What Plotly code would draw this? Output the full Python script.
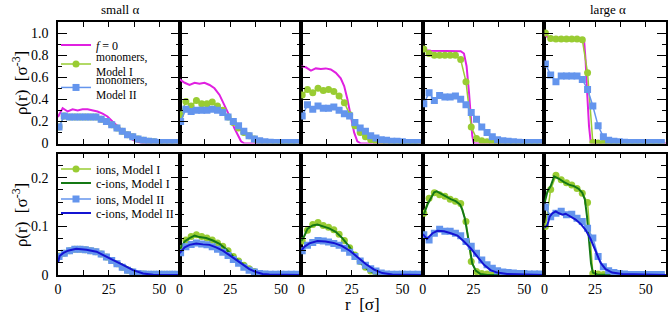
import plotly.graph_objects as go
from plotly.subplots import make_subplots

# ---------------- data ----------------
r_mark = [0.5, 3.1, 5.7, 8.3, 10.9, 13.5, 16.1, 18.7, 21.3, 23.9, 26.5, 29.1,
          31.7, 34.3, 36.9, 39.5, 42.1, 44.7, 47.3, 49.9, 52.5, 55.1, 57.7]

# top row: f = 0 reference curves
f0_r1 = [0, 0.3, 2.3, 4.8, 7.2, 9.7, 12.1, 14.6, 17, 19.5, 22, 24.4, 26.9, 29.3, 31.8, 34.3, 36.7, 39.2, 41.6, 44.9, 50, 60]
f0_v1 = [0.24, 0.25, 0.32, 0.29, 0.31, 0.30, 0.31, 0.31, 0.30, 0.29, 0.27, 0.245, 0.20, 0.16, 0.11, 0.07, 0.035, 0.015, 0.005, 0, 0, 0]
f0_r2 = [0, 2.5, 4.9, 7.4, 9.8, 12.3, 14.8, 17.2, 19.7, 22.1, 24.6, 27, 28.7, 30.3, 32, 60]
f0_v2 = [0.58, 0.55, 0.53, 0.55, 0.54, 0.55, 0.53, 0.50, 0.44, 0.35, 0.25, 0.14, 0.07, 0.02, 0, 0]
f0_r3 = [0, 2.3, 4.8, 7.2, 9.7, 12.1, 14.6, 17.1, 19.5, 21.2, 22.8, 24.5, 26.1, 27.7, 29.4, 60]
f0_v3 = [0.70, 0.69, 0.66, 0.68, 0.675, 0.68, 0.67, 0.64, 0.59, 0.52, 0.40, 0.25, 0.10, 0.02, 0, 0]
f0_r4 = [0, 1.5, 4, 8, 12, 16, 18.7, 20.3, 21.6, 22.8, 23.6, 24.4, 25.2, 60]
f0_v4 = [0.86, 0.845, 0.84, 0.84, 0.84, 0.84, 0.835, 0.815, 0.70, 0.46, 0.25, 0.07, 0, 0]
f0_r5 = [0, 1, 2.3, 6, 10, 14, 18.7, 19.5, 20.3, 21.1, 22, 22.8, 23.3, 60]
f0_v5 = [0.995, 0.97, 0.96, 0.96, 0.96, 0.958, 0.955, 0.95, 0.76, 0.46, 0.16, 0.02, 0, 0]

# top row: monomers, Model I (circles)
monI_1 = [0.15, 0.25, 0.24, 0.24, 0.24, 0.24, 0.24, 0.24, 0.22, 0.20, 0.17, 0.14, 0.11, 0.08, 0.06, 0.04, 0.03, 0.02, 0.015, 0.01, 0.01, 0.01, 0.01]
monI_2 = [0.26, 0.38, 0.34, 0.39, 0.36, 0.36, 0.375, 0.34, 0.30, 0.24, 0.19, 0.14, 0.10, 0.07, 0.04, 0.02, 0.01, 0.01, 0.005, 0.003, 0.002, 0.002, 0.002]
monI_3 = [0.44, 0.49, 0.46, 0.50, 0.48, 0.49, 0.47, 0.43, 0.37, 0.26, 0.16, 0.10, 0.06, 0.035, 0.02, 0.01, 0.008, 0.005, 0.004, 0.003, 0.003, 0.002, 0.002]
monI_4 = [0.855, 0.815, 0.80, 0.80, 0.80, 0.80, 0.80, 0.76, 0.56, 0.15, 0.045, 0.025, 0.015, 0.01, 0.008, 0.006, 0.005, 0.005, 0.004, 0.004, 0.003, 0.003, 0.003]
monI_5 = [1.0, 0.95, 0.945, 0.945, 0.945, 0.945, 0.945, 0.94, 0.64, 0.008, 0.005, 0.004, 0.003, 0.003, 0.002, 0.002, 0.002, 0.002, 0.002, 0.002, 0.002, 0.002, 0.002]

# top row: monomers, Model II (squares)
monII_1 = [0.15, 0.25, 0.24, 0.24, 0.24, 0.24, 0.24, 0.24, 0.22, 0.20, 0.17, 0.14, 0.11, 0.08, 0.06, 0.04, 0.03, 0.02, 0.015, 0.01, 0.01, 0.01, 0.01]
monII_2 = [0.20, 0.31, 0.29, 0.30, 0.30, 0.30, 0.31, 0.30, 0.28, 0.24, 0.20, 0.16, 0.11, 0.07, 0.04, 0.025, 0.015, 0.012, 0.01, 0.01, 0.008, 0.008, 0.008]
monII_3 = [0.25, 0.35, 0.31, 0.34, 0.32, 0.32, 0.33, 0.30, 0.27, 0.25, 0.19, 0.14, 0.11, 0.07, 0.05, 0.035, 0.03, 0.02, 0.02, 0.015, 0.01, 0.01, 0.01]
monII_4 = [0.36, 0.46, 0.39, 0.435, 0.42, 0.42, 0.43, 0.40, 0.35, 0.28, 0.22, 0.15, 0.10, 0.06, 0.035, 0.025, 0.02, 0.015, 0.012, 0.01, 0.01, 0.01, 0.01]
monII_5 = [0.72, 0.62, 0.56, 0.61, 0.61, 0.61, 0.61, 0.58, 0.49, 0.34, 0.16, 0.06, 0.03, 0.02, 0.015, 0.012, 0.01, 0.01, 0.01, 0.01, 0.01, 0.01, 0.01]

# bottom row: ions (markers)
ionI_1 = [0.039, 0.045, 0.050, 0.053, 0.053, 0.052, 0.050, 0.048, 0.043, 0.037, 0.030, 0.023, 0.016, 0.010, 0.006, 0.003, 0.002, 0.0015, 0.0015, 0.0015, 0.0015, 0.0015, 0.0015]
ionI_2 = [0.054, 0.072, 0.079, 0.083, 0.079, 0.076, 0.072, 0.066, 0.059, 0.050, 0.038, 0.029, 0.020, 0.013, 0.007, 0.003, 0.0015, 0.001, 0.001, 0.001, 0.001, 0.001, 0.001]
ionI_3 = [0.070, 0.092, 0.104, 0.108, 0.102, 0.098, 0.093, 0.084, 0.071, 0.056, 0.041, 0.028, 0.016, 0.008, 0.004, 0.002, 0.001, 0.001, 0.001, 0.001, 0.001, 0.001, 0.001]
ionI_4 = [0.127, 0.158, 0.169, 0.165, 0.162, 0.156, 0.152, 0.147, 0.110, 0.028, 0.007, 0.003, 0.002, 0.001, 0.001, 0.001, 0.001, 0.001, 0.001, 0.001, 0.001, 0.001, 0.001]
ionI_5 = [0.100, 0.176, 0.205, 0.196, 0.190, 0.185, 0.178, 0.168, 0.149, 0.003, 0.002, 0.001, 0.001, 0.001, 0.001, 0.001, 0.001, 0.001, 0.001, 0.001, 0.001, 0.001, 0.001]

ionII_1 = [0.038, 0.045, 0.050, 0.053, 0.053, 0.052, 0.050, 0.048, 0.043, 0.037, 0.030, 0.023, 0.016, 0.010, 0.006, 0.003, 0.002, 0.0015, 0.0015, 0.0015, 0.0015, 0.0015, 0.0015]
ionII_2 = [0.046, 0.058, 0.063, 0.066, 0.064, 0.062, 0.058, 0.053, 0.047, 0.040, 0.032, 0.024, 0.016, 0.010, 0.006, 0.003, 0.002, 0.0015, 0.0015, 0.0015, 0.0015, 0.0015, 0.0015]
ionII_3 = [0.050, 0.061, 0.067, 0.071, 0.070, 0.068, 0.065, 0.061, 0.055, 0.047, 0.038, 0.029, 0.020, 0.013, 0.008, 0.004, 0.002, 0.0015, 0.0015, 0.0015, 0.0015, 0.0015, 0.0015]
ionII_4 = [0.083, 0.072, 0.086, 0.094, 0.090, 0.090, 0.086, 0.081, 0.069, 0.059, 0.045, 0.031, 0.021, 0.014, 0.009, 0.006, 0.005, 0.004, 0.003, 0.003, 0.002, 0.002, 0.002]
ionII_5 = [0.140, 0.120, 0.127, 0.131, 0.124, 0.125, 0.117, 0.110, 0.096, 0.076, 0.038, 0.017, 0.009, 0.005, 0.003, 0.002, 0.001, 0.001, 0.001, 0.001, 0.001, 0.001, 0.001]

# bottom row: counter-ions (lines)
cI_r1 = [0, 0.8, 2.5, 4.9, 9, 14, 19, 23, 27, 32, 37, 42, 47, 60]
cI_v1 = [0.026, 0.040, 0.046, 0.050, 0.054, 0.052, 0.048, 0.040, 0.031, 0.021, 0.010, 0.003, 0.0005, 0]
cI_r2 = [0, 2.5, 4.9, 7.4, 9.8, 13.1, 16.4, 19.7, 23, 26.2, 29.5, 32.8, 36, 39.3, 42.6, 60]
cI_v2 = [0.052, 0.069, 0.076, 0.081, 0.078, 0.076, 0.071, 0.064, 0.053, 0.039, 0.028, 0.017, 0.009, 0.003, 0.001, 0]
cI_r3 = [0, 1, 3.1, 5.6, 8, 10.5, 13.8, 17, 20.3, 23.6, 26.9, 30.2, 33.4, 36.7, 40, 60]
cI_v3 = [0.070, 0.076, 0.095, 0.102, 0.104, 0.101, 0.096, 0.089, 0.076, 0.059, 0.038, 0.021, 0.009, 0.003, 0.001, 0]
cI_r4 = [0, 0.7, 2.3, 3.9, 5.6, 6.9, 8.9, 11.3, 13.8, 16.2, 18.4, 19.5, 20.7, 22, 23.3, 24.4, 26.1, 28.5, 31.8, 60]
cI_v4 = [0.125, 0.127, 0.145, 0.158, 0.170, 0.172, 0.167, 0.162, 0.156, 0.152, 0.145, 0.134, 0.117, 0.086, 0.052, 0.024, 0.009, 0.002, 0, 0]
cI_r5 = [0, 0.3, 1.5, 3.1, 4.8, 7.2, 9.7, 12.1, 14.6, 17, 18.7, 20, 21, 22, 23, 23.9, 26, 60]
cI_v5 = [0.150, 0.152, 0.172, 0.183, 0.203, 0.198, 0.191, 0.186, 0.183, 0.177, 0.169, 0.155, 0.121, 0.072, 0.024, 0.005, 0.001, 0]

cII_r1 = [0, 0.8, 2.5, 4.9, 9, 14, 19, 23, 27, 32, 37, 42, 47, 60]
cII_v1 = [0.025, 0.039, 0.045, 0.050, 0.054, 0.052, 0.048, 0.039, 0.031, 0.021, 0.010, 0.003, 0.0005, 0]
cII_r2 = [0, 2.5, 4.9, 8.2, 11.5, 14.8, 18, 21.3, 24.6, 27.9, 31.1, 34.4, 37.7, 41, 44.3, 60]
cII_v2 = [0.045, 0.057, 0.062, 0.065, 0.063, 0.062, 0.057, 0.050, 0.041, 0.031, 0.021, 0.012, 0.006, 0.002, 0.001, 0]
cII_r3 = [0, 1.5, 4, 8, 12, 16, 20, 24, 28, 32, 36, 40, 45, 60]
cII_v3 = [0.050, 0.058, 0.065, 0.070, 0.069, 0.066, 0.060, 0.050, 0.036, 0.022, 0.011, 0.004, 0.001, 0]
cII_r4 = [0, 0.3, 2, 3.1, 4.8, 7.2, 10.5, 13.8, 17.1, 20.3, 23.6, 26.9, 30.2, 33.4, 36.7, 41.6, 48, 60]
cII_v4 = [0.083, 0.083, 0.074, 0.078, 0.086, 0.091, 0.090, 0.086, 0.081, 0.069, 0.055, 0.038, 0.021, 0.010, 0.005, 0.002, 0.001, 0]
cII_r5 = [0, 0.3, 1.5, 2.6, 3.9, 5.6, 7.2, 8.9, 10.5, 13, 15.4, 17.9, 20.3, 22.8, 25.2, 27.7, 30.2, 33.4, 38.4, 48.2, 60]
cII_v5 = [0.098, 0.098, 0.103, 0.120, 0.127, 0.131, 0.127, 0.124, 0.126, 0.120, 0.114, 0.105, 0.093, 0.074, 0.048, 0.025, 0.012, 0.005, 0.002, 0.001, 0]

x_ticks = [0, 25, 50]
y_top_ticks = [0, 0.2, 0.4, 0.6, 0.8, 1.0]
y_top_labels = ["0", "0.2", "0.4", "0.6", "0.8", "1.0"]
y_bot_ticks = [0, 0.1, 0.2]
y_bot_labels = ["0", "0.1", "0.2"]

# ---------------- styling ----------------
C_MAG = "#e020e0"
C_LG = "#99cc33"
C_LB = "#6495ed"
C_DG = "#147814"
C_DB = "#1414d2"
FONT = "Liberation Serif"

f0 = [(f0_r1, f0_v1), (f0_r2, f0_v2), (f0_r3, f0_v3), (f0_r4, f0_v4), (f0_r5, f0_v5)]
monI = [monI_1, monI_2, monI_3, monI_4, monI_5]
monII = [monII_1, monII_2, monII_3, monII_4, monII_5]
ionI = [ionI_1, ionI_2, ionI_3, ionI_4, ionI_5]
ionII = [ionII_1, ionII_2, ionII_3, ionII_4, ionII_5]
cI = [(cI_r1, cI_v1), (cI_r2, cI_v2), (cI_r3, cI_v3), (cI_r4, cI_v4), (cI_r5, cI_v5)]
cII = [(cII_r1, cII_v1), (cII_r2, cII_v2), (cII_r3, cII_v3), (cII_r4, cII_v4), (cII_r5, cII_v5)]

fig = make_subplots(rows=2, cols=5, horizontal_spacing=0, vertical_spacing=10 / 253)

MS = 7
for c in range(5):
    col = c + 1
    first = (c == 0)
    # top row
    fig.add_trace(go.Scatter(x=f0[c][0], y=f0[c][1], mode="lines", name="<i>f</i> = 0",
                             line=dict(color=C_MAG, width=2), showlegend=first, legend="legend"), row=1, col=col)
    fig.add_trace(go.Scatter(x=r_mark, y=monI[c], mode="lines+markers", name="monomers,<br>Model I",
                             line=dict(color=C_LG, width=1.5), marker=dict(symbol="circle", size=MS, color=C_LG),
                             showlegend=first, legend="legend3"), row=1, col=col)
    fig.add_trace(go.Scatter(x=r_mark, y=monII[c], mode="lines+markers", name="monomers,<br>Model II",
                             line=dict(color=C_LB, width=1.5), marker=dict(symbol="square", size=MS, color=C_LB),
                             showlegend=first, legend="legend4"), row=1, col=col)
    # bottom row
    fig.add_trace(go.Scatter(x=r_mark, y=ionI[c], mode="lines+markers", name="ions, Model I",
                             line=dict(color=C_LG, width=1.5), marker=dict(symbol="circle", size=MS, color=C_LG),
                             showlegend=first, legend="legend2"), row=2, col=col)
    fig.add_trace(go.Scatter(x=cI[c][0], y=cI[c][1], mode="lines", name="c-ions, Model I",
                             line=dict(color=C_DG, width=2), showlegend=first, legend="legend5"), row=2, col=col)
    fig.add_trace(go.Scatter(x=r_mark, y=ionII[c], mode="lines+markers", name="ions, Model II",
                             line=dict(color=C_LB, width=1.5), marker=dict(symbol="square", size=MS, color=C_LB),
                             showlegend=first, legend="legend6"), row=2, col=col)
    fig.add_trace(go.Scatter(x=cII[c][0], y=cII[c][1], mode="lines", name="c-ions, Model II",
                             line=dict(color=C_DB, width=2), showlegend=first, legend="legend7"), row=2, col=col)

    for row in (1, 2):
        fig.update_xaxes(range=[0, 60], tickmode="array", tickvals=x_ticks, ticks="inside", ticklen=5,
                         tickwidth=1.2, tickcolor="black", showline=True, linecolor="black", linewidth=1.5,
                         mirror="allticks", showgrid=False, zeroline=False,
                         minor=dict(tickmode="linear", tick0=0, dtick=12.5, ticks="inside", ticklen=5,
                                    tickwidth=1.2, tickcolor="black", showgrid=False),
                         showticklabels=(row == 2),
                         tickfont=dict(family=FONT, size=14, color="black"),
                         row=row, col=col)
    fig.update_yaxes(range=[0, 1.1], tickmode="array", tickvals=y_top_ticks, ticktext=y_top_labels,
                     ticks="inside", ticklen=9, tickwidth=1.2, tickcolor="black",
                     showline=True, linecolor="black", linewidth=1.5, mirror="allticks",
                     showgrid=False, zeroline=False,
                     minor=dict(tickmode="linear", tick0=0, dtick=0.1, ticks="inside", ticklen=4,
                                tickwidth=1.2, tickcolor="black", showgrid=False),
                     showticklabels=first, ticklabelstandoff=5,
                     tickfont=dict(family=FONT, size=14, color="black"), row=1, col=col)
    fig.update_yaxes(range=[0, 0.25], tickmode="array", tickvals=y_bot_ticks, ticktext=y_bot_labels,
                     ticks="inside", ticklen=9, tickwidth=1.2, tickcolor="black",
                     showline=True, linecolor="black", linewidth=1.5, mirror="allticks",
                     showgrid=False, zeroline=False,
                     minor=dict(tickmode="linear", tick0=0, dtick=0.025, ticks="inside", ticklen=5,
                                tickwidth=1.2, tickcolor="black", showgrid=False),
                     showticklabels=first, ticklabelstandoff=5,
                     tickfont=dict(family=FONT, size=14, color="black"), row=2, col=col)

W, H = 670, 316
ML, MR, MT, MB = 58, 2, 22, 41
PW, PH = W - ML - MR, H - MT - MB


def px(x):
    return (x - ML) / PW


def py(y):
    return (H - MB - y) / PH


ann = [
    dict(text="small α", x=px(120), y=py(9), font=dict(size=13)),
    dict(text="large α", x=px(610), y=py(9), font=dict(size=13)),
    dict(text="ρ(r)\u00a0\u00a0[σ<sup>-3</sup>]", x=px(20), y=py(83), textangle=-90, font=dict(size=17)),
    dict(text="ρ(r)\u00a0\u00a0[σ<sup>-3</sup>]", x=px(20), y=py(215), textangle=-90, font=dict(size=17)),
    dict(text="r\u00a0\u00a0[σ]", x=px(363), y=py(304), font=dict(size=17)),
]
for a in ann:
    a.update(xref="paper", yref="paper", showarrow=False, xanchor="center", yanchor="middle")
    a["font"].update(family=FONT, color="black")


def leg(ycenter, size=12):
    return dict(x=px(56), y=py(ycenter), xanchor="left", yanchor="middle", bgcolor="rgba(0,0,0,0)",
                font=dict(family=FONT, size=size, color="black"), itemwidth=30, tracegroupgap=0)


fig.update_layout(
    width=W, height=H,
    margin=dict(l=ML, r=MR, t=MT, b=MB),
    paper_bgcolor="white", plot_bgcolor="white",
    font=dict(family=FONT, color="black"),
    annotations=ann,
    legend=leg(45), legend3=leg(64, 11.5), legend4=leg(87.5, 11.5),
    legend2=leg(169), legend5=leg(183), legend6=leg(199), legend7=leg(213),
)

fig.write_html("out.html", config={"displayModeBar": False},
               post_script="document.body.style.margin='0';document.body.style.padding='0';")
